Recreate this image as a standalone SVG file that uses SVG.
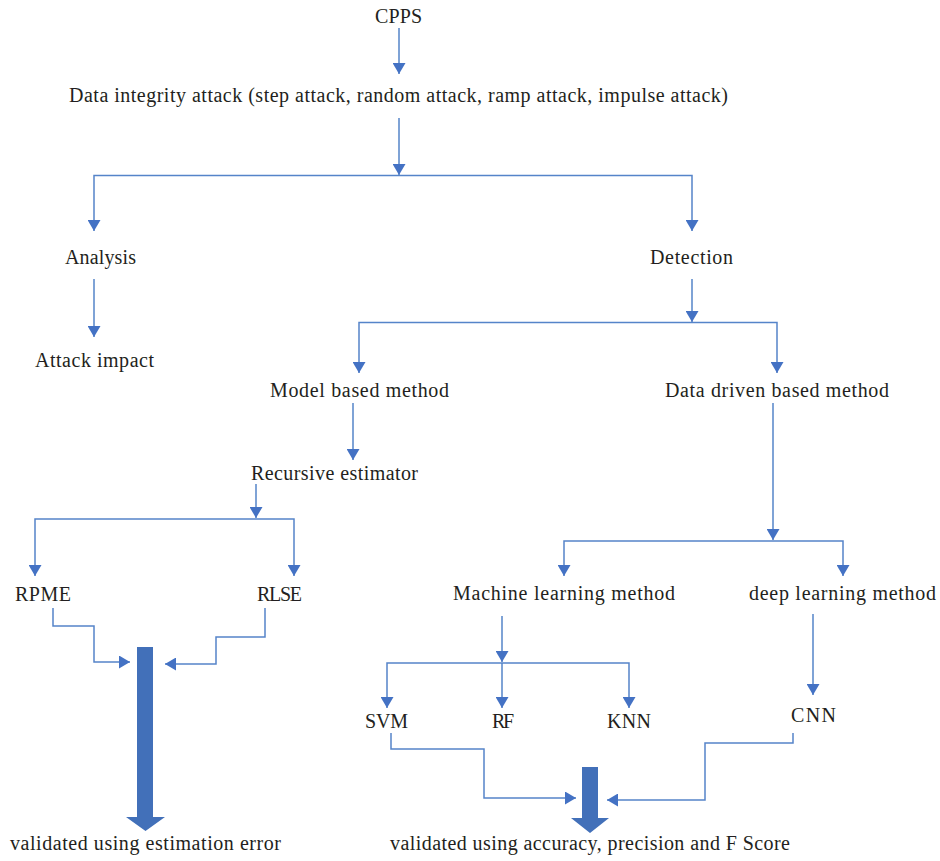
<svg xmlns="http://www.w3.org/2000/svg" width="940" height="861" viewBox="0 0 940 861">
  <defs>
    <marker id="arrow" viewBox="0 0 11 13" refX="11" refY="6.5" markerWidth="11" markerHeight="13" markerUnits="userSpaceOnUse" orient="auto">
      <path d="M0,0 L11,6.5 L0,13 Z" fill="#4472C4"/>
    </marker>
    <style>
      .label { font-family: "Liberation Serif", "Times New Roman", serif; font-size: 20px; fill: #231F20; }
      .link { fill: none; stroke: #5584C9; stroke-width: 1.5; marker-end: url(#arrow); }
      .plain { fill: none; stroke: #5584C9; stroke-width: 1.5; }
      .block { fill: #4270B9; }
    </style>
  </defs>
  <rect width="940" height="861" fill="#FFFFFF"/>

  <!-- connectors -->
  <g id="connectors">
    <path class="link" d="M399,28 V74"/>
    <path class="link" d="M399,118 V175"/>
    <path class="link" d="M399,175.5 H94 V231"/>
    <path class="link" d="M399,175.5 H692 V231"/>
    <path class="link" d="M94,279 V337"/>
    <path class="link" d="M692,279 V322"/>
    <path class="link" d="M692,322.5 H359 V373"/>
    <path class="link" d="M692,322.5 H777 V373"/>
    <path class="link" d="M353,403 V460"/>
    <path class="link" d="M256,484 V518"/>
    <path class="link" d="M256,519 H35 V576"/>
    <path class="link" d="M256,519 H294 V576"/>
    <path class="link" d="M53,608 V626 H94 V662 H130"/>
    <path class="link" d="M265,608 V637 H216 V664 H165"/>
    <path class="link" d="M773,403 V540"/>
    <path class="link" d="M773,541 H564 V576"/>
    <path class="link" d="M773,541 H843 V576"/>
    <path class="link" d="M502,616 V662"/>
    <path class="link" d="M502,663 H387 V708"/>
    <path class="link" d="M502,663 V708"/>
    <path class="link" d="M502,663 H629 V708"/>
    <path class="link" d="M813,614 V695"/>
    <path class="link" d="M391,733 V749 H484 V798 H576"/>
    <path class="link" d="M793,733 V743 H705 V800 H607"/>
    <!-- block arrows into the validation results -->
    <path class="block" d="M137,647 H153 V817 H165 L145.5,831 L126,817 H137 Z"/>
    <path class="block" d="M582,767 H598 V818 H609 L590,833 L571,818 H582 Z"/>
  </g>

  <!-- nodes -->
  <g id="cpps"><text class="label" x="375" y="23" textLength="47">CPPS</text></g>
  <g id="attack"><text class="label" x="69" y="102" textLength="659">Data integrity attack (step attack, random attack, ramp attack, impulse attack)</text></g>
  <g id="analysis"><text class="label" x="65" y="264" textLength="71">Analysis</text></g>
  <g id="detection"><text class="label" x="650" y="264" textLength="83">Detection</text></g>
  <g id="attack-impact"><text class="label" x="35" y="367" textLength="119">Attack impact</text></g>
  <g id="model-based"><text class="label" x="270" y="397" textLength="179">Model based method</text></g>
  <g id="data-driven"><text class="label" x="665" y="397" textLength="224">Data driven based method</text></g>
  <g id="recursive-estimator"><text class="label" x="251" y="480" textLength="167">Recursive estimator</text></g>
  <g id="rpme"><text class="label" x="15" y="601" textLength="56">RPME</text></g>
  <g id="rlse"><text class="label" x="257" y="601" textLength="45">RLSE</text></g>
  <g id="machine-learning"><text class="label" x="453" y="600" textLength="222">Machine learning method</text></g>
  <g id="deep-learning"><text class="label" x="749" y="600" textLength="187">deep learning method</text></g>
  <g id="svm"><text class="label" x="365" y="728" textLength="43">SVM</text></g>
  <g id="rf"><text class="label" x="492" y="728" textLength="22">RF</text></g>
  <g id="knn"><text class="label" x="607" y="728" textLength="44">KNN</text></g>
  <g id="cnn"><text class="label" x="791" y="722" textLength="45">CNN</text></g>
  <g id="estimation-error"><text class="label" x="10" y="850" textLength="271">validated using estimation error</text></g>
  <g id="accuracy-metrics"><text class="label" x="390" y="850" textLength="400">validated using accuracy, precision and F Score</text></g>
</svg>
